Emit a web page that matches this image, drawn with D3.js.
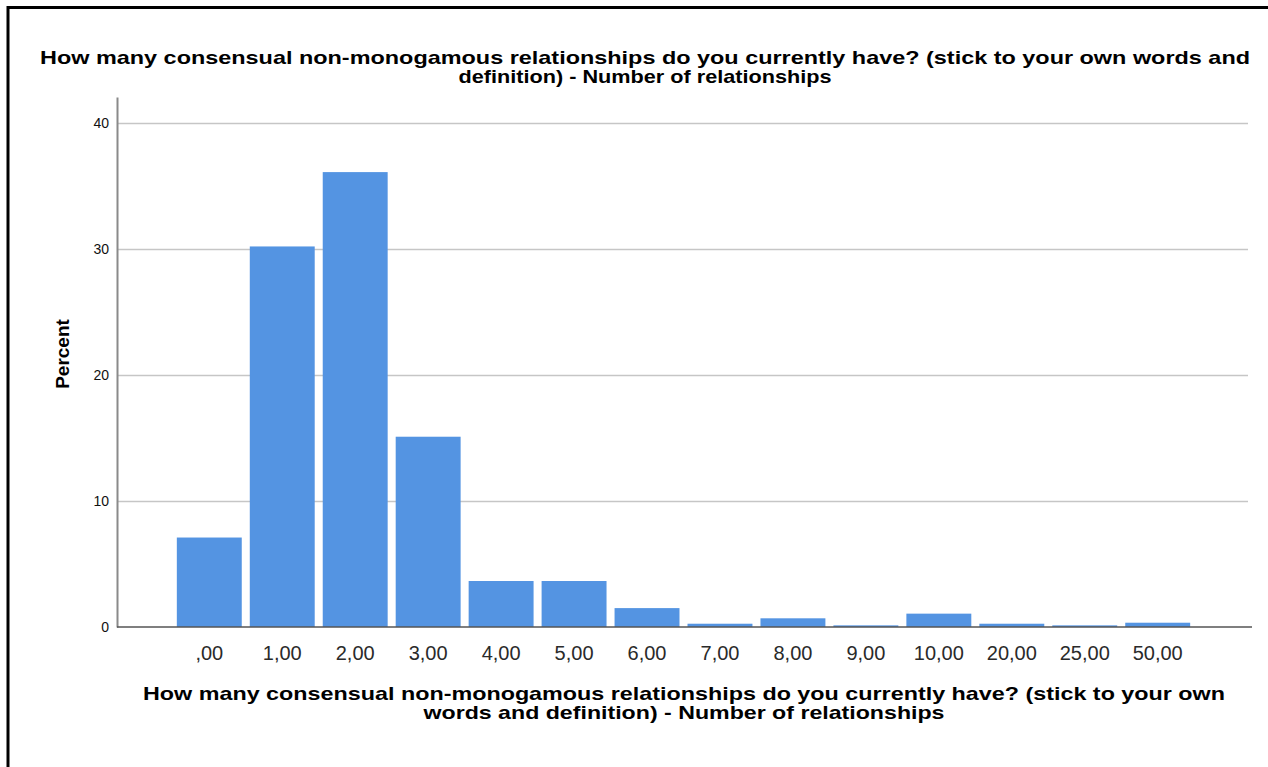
<!DOCTYPE html>
<meta charset="utf-8">
<style>
body { margin: 0; background-color: #fff; }
.axis text { font-family: "Liberation Sans", Arial, sans-serif; }
.title { font: bold 19px "Liberation Sans", Arial, sans-serif; fill: #000; }
.ylabel { font: bold 19px "Liberation Sans", Arial, sans-serif; fill: #000; }
</style>
<body>
<svg width="1268" height="767"></svg>
</body>
<script src="https://d3js.org/d3.v7.min.js"></script>
<script>

var categories = [",00", "1,00", "2,00", "3,00", "4,00", "5,00", "6,00", "7,00", "8,00", "9,00", "10,00", "20,00", "25,00", "50,00"];
var percents = [7.1, 30.2, 36.1, 15.1, 3.65, 3.65, 1.5, 0.26, 0.69, 0.13, 1.06, 0.26, 0.13, 0.34];
var yTicks = [0, 10, 20, 30, 40];
var titleLines = ["How many consensual non-monogamous relationships do you currently have? (stick to your own words and",
                  "definition) - Number of relationships"];
var xTitleLines = ["How many consensual non-monogamous relationships do you currently have? (stick to your own",
                   "words and definition) - Number of relationships"];

var margin = {top: 97, right: 18, bottom: 140, left: 117},
    width = 1268 - margin.left - margin.right,
    height = 767 - margin.top - margin.bottom;

var svg = d3.select("svg");

// frame (top and left edges only)
svg.append("path")
  .attr("d", "M8,767V7.5H1268")
  .attr("fill", "none")
  .attr("stroke", "#000")
  .attr("stroke-width", 3);

var x = d3.scaleBand().domain(categories).range([0, width])
  .paddingInner(0.11).paddingOuter(0.82);
var y = d3.scaleLinear().domain([0, 42.06]).range([height, 0]);

var g = svg.append("g")
  .attr("transform", "translate(" + margin.left + "," + margin.top + ")");

// gridlines
g.selectAll(".grid").data(yTicks.filter(function(d){ return d > 0; }))
  .enter().append("line")
  .attr("class", "grid")
  .attr("x1", 0).attr("x2", width - 2)
  .attr("y1", function(d){ return Math.round(y(d)) + 0.5; })
  .attr("y2", function(d){ return Math.round(y(d)) + 0.5; })
  .attr("stroke", "#c6c6c6")
  .attr("stroke-width", 1.5);

// bars
g.selectAll(".bar").data(percents)
  .enter().append("rect")
  .attr("class", "bar")
  .attr("x", function(d, i){ return x(categories[i]); })
  .attr("width", x.bandwidth())
  .attr("y", function(d){ return y(d); })
  .attr("height", function(d){ return height - y(d); })
  .attr("fill", "#5494e2");

// y axis
var yAxis = d3.axisLeft(y).tickValues(yTicks).tickSize(0).tickPadding(8);
var gY = g.append("g").attr("class", "axis").call(yAxis);
gY.select(".domain").attr("stroke", "#8a8a8a").attr("stroke-width", 2);
gY.selectAll("text").attr("font-size", "14px").attr("fill", "#111");

// x axis
var xAxis = d3.axisBottom(x).tickSize(0).tickPadding(19);
var gX = g.append("g").attr("class", "axis")
  .attr("transform", "translate(0," + height + ")")
  .call(xAxis);
gX.select(".domain").attr("stroke", "#555").attr("stroke-width", 1.5)
  .attr("d", "M0,0H" + (width + 2));
gX.selectAll("text").attr("font-size", "20px").attr("fill", "#2a2a2a");

// y axis title
svg.append("text")
  .attr("class", "ylabel")
  .attr("transform", "translate(69," + (margin.top + height / 2 - 8) + ") rotate(-90)")
  .attr("text-anchor", "middle")
  .text("Percent");

// chart title
var titleWidths = [1210, 373];
svg.selectAll(".ctitle").data(titleLines)
  .enter().append("text")
  .attr("class", "title ctitle")
  .attr("x", function(d, i){ return 645 - titleWidths[i] / 2; })
  .attr("y", function(d, i){ return 64 + i * 19; })
  .attr("textLength", function(d, i){ return titleWidths[i]; })
  .attr("lengthAdjust", "spacingAndGlyphs")
  .text(function(d){ return d; });

// x axis title
var xTitleWidths = [1082, 521];
svg.selectAll(".xtitle").data(xTitleLines)
  .enter().append("text")
  .attr("class", "title xtitle")
  .attr("x", function(d, i){ return 684 - xTitleWidths[i] / 2; })
  .attr("y", function(d, i){ return 700 + i * 19; })
  .attr("textLength", function(d, i){ return xTitleWidths[i]; })
  .attr("lengthAdjust", "spacingAndGlyphs")
  .text(function(d){ return d; });

</script>
